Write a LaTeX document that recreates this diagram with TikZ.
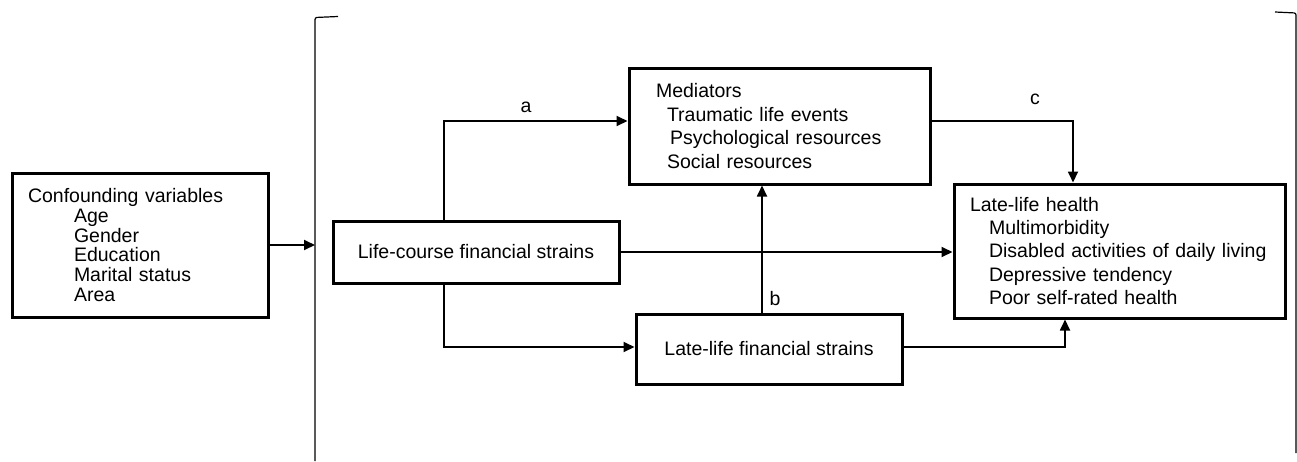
\documentclass[tikz,border=0pt]{standalone}
\usepackage{fontspec}
\setmainfont{Liberation Sans}
\usetikzlibrary{arrows.meta}
\begin{document}
\begin{tikzpicture}[x=1pt,y=-1pt,
  box/.style={draw, line width=3pt, inner ysep=0pt},
  conn/.style={line width=1.8pt},
  arr/.style={conn, -{Triangle[length=11pt,width=10pt]}},
  bracket/.style={line width=1.2pt, rounded corners=2pt},
  lbl/.style={font=\fontsize{19.5}{22}\selectfont, inner sep=0pt, anchor=base},
  every node/.style={font=\fontsize{19.5}{22}\selectfont}]
\useasboundingbox (0,0) rectangle (1297,461);

% bracket
\draw[bracket] (338,16.5) -- (315,17.5) -- (315,461);
\draw[bracket] (1275,12) -- (1296,13) -- (1296,453);
\coordinate (bl) at (315,0);

% boxes
\node[box, minimum width=256pt, minimum height=144pt, text width=224pt, inner xsep=16pt, align=left,
  font=\fontsize{19.5}{19.7}\selectfont] (conf) at (140,245)
  {Confounding variables\\
   \hspace*{46pt}Age\\
   \hspace*{46pt}Gender\\
   \hspace*{46pt}Education\\
   \hspace*{46pt}Marital status\\
   \hspace*{46pt}Area};

\node[box, minimum width=286pt, minimum height=62pt] (life) at (476,252) {Life-course financial strains};

\node[box, minimum width=301pt, minimum height=116pt, text width=247pt, inner xsep=27pt, align=left,
  font=\fontsize{19.5}{23.4}\selectfont] (med) at (779.5,126)
  {Mediators\\
   \hspace*{11pt}Traumatic life events\\
   \hspace*{14pt}Psychological resources\\
   \hspace*{11pt}Social resources};

\node[box, minimum width=266pt, minimum height=70pt] (latefin) at (769,349) {Late-life financial strains};

\node[box, minimum width=331pt, minimum height=134pt, text width=299pt, inner xsep=16pt, align=left,
  font=\fontsize{19.5}{23.3}\selectfont] (health) at (1119.5,251)
  {Late-life health\\
   \hspace*{19pt}Multimorbidity\\
   \hspace*{19pt}Disabled activities of daily living\\
   \hspace*{19pt}Depressive tendency\\
   \hspace*{19pt}Poor self-rated health};

% helper coordinates
\coordinate (ax) at (444,0);
\coordinate (bx) at (762,0);
\coordinate (cx) at (1073,0);
\coordinate (dx) at (1065,0);

% connectors
\draw[arr] (conf.east) -- (conf.east -| bl);
\draw[arr] (life.north -| ax) |- ([yshift=5pt]med.west);
\draw[arr] (life.east) -- (life.east -| health.west);
\draw[arr] (life.south -| ax) |- ([yshift=2pt]latefin.west);
\draw[arr] (latefin.north -| bx) -- (med.south -| bx);
\draw[arr] ([yshift=2pt]latefin.east) -| (health.south -| dx);
\draw[arr] ([yshift=5pt]med.east) -| (health.north -| cx);

% labels
\node[lbl] (la) at (526,112) {a};
\node[lbl] (lb) at (775,305) {b};
\node[lbl] (lc) at (1035,104) {c};
\end{tikzpicture}
\end{document}
